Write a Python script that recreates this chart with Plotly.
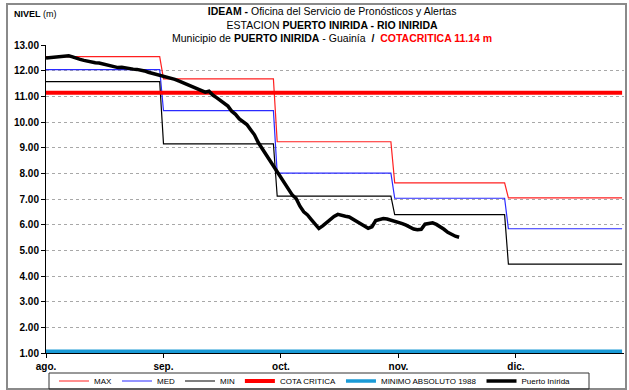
import datetime as dt
import plotly.graph_objects as go

# ---- data -------------------------------------------------------------
YEAR = 2011
month_numbers = [8, 9, 10, 11, 12]
month_lengths = [31, 30, 31, 30, 31]
tick_labels = ["ago.", "sep.", "oct.", "nov.", "dic."]

# monthly historical levels (m)
nivel_max = [12.55, 11.68, 9.23, 7.63, 7.04]
nivel_med = [12.04, 10.44, 8.01, 7.03, 5.84]
nivel_min = [11.57, 9.15, 7.11, 6.39, 4.46]

COTA_CRITICA = 11.14
MINIMO_ABSOLUTO_1988 = 1.07

# daily observed level at Puerto Inírida, starting 1 Aug
puerto_inirida = [
    12.49, 12.51, 12.53, 12.55, 12.56, 12.57, 12.58, 12.54, 12.48, 12.44,
    12.40, 12.36, 12.33, 12.31, 12.30, 12.27, 12.23, 12.19, 12.16, 12.12,
    12.13, 12.10, 12.08, 12.06, 12.05, 12.03, 11.99, 11.94, 11.90, 11.86,
    11.82,
    11.79, 11.76, 11.72, 11.66, 11.60, 11.54, 11.48, 11.41, 11.35, 11.28,
    11.22, 11.16, 11.20, 11.05, 10.95, 10.85, 10.75, 10.62, 10.42, 10.30,
    10.12, 10.00, 9.90, 9.70, 9.50, 9.20, 8.97, 8.78, 8.52, 8.30,
    8.05, 7.82, 7.60, 7.38, 7.15, 7.02, 6.72, 6.50, 6.38, 6.20,
    6.00, 5.85, 5.95, 6.08, 6.18, 6.32, 6.40, 6.38, 6.33, 6.30,
    6.22, 6.13, 6.05, 5.95, 5.86, 5.92, 6.16, 6.20, 6.24, 6.22,
    6.18,
    6.14, 6.10, 6.04, 5.98, 5.90, 5.83, 5.80, 5.82, 6.02, 6.06,
    6.07, 6.01, 5.93, 5.82, 5.70, 5.62, 5.55, 5.51,
]

# ---- derived coordinates ---------------------------------------------
start = dt.datetime(YEAR, 8, 1)
days_obs = [start + dt.timedelta(days=i) for i in range(len(puerto_inirida))]


def monthly_steps(values):
    xs, ys = [], []
    for m, n, v in zip(month_numbers, month_lengths, values):
        xs += [dt.datetime(YEAR, m, 1), dt.datetime(YEAR, m, n)]
        ys += [v, v]
    return xs, ys


x_first = dt.datetime(YEAR, month_numbers[0], 1)
x_last = dt.datetime(YEAR, month_numbers[-1], month_lengths[-1])
tick_vals = [start + dt.timedelta(days=31 * i) for i in range(len(tick_labels))]

NARROW = "Liberation Sans Narrow, Arial Narrow, Liberation Sans, Arial, sans-serif"
SANS = "Liberation Sans, Arial, sans-serif"

fig = go.Figure()

for name, vals, color in [("MAX", nivel_max, "#FF2020"),
                          ("MED", nivel_med, "#2B2BFF"),
                          ("MIN", nivel_min, "#000000")]:
    xs, ys = monthly_steps(vals)
    fig.add_trace(go.Scatter(x=xs, y=ys, mode="lines", name=name,
                             line=dict(color=color, width=1.2)))

fig.add_trace(go.Scatter(x=[x_first, x_last], y=[COTA_CRITICA] * 2, mode="lines",
                         name="COTA CRITICA", line=dict(color="#FF0000", width=4)))
fig.add_trace(go.Scatter(x=[x_first, x_last], y=[MINIMO_ABSOLUTO_1988] * 2, mode="lines",
                         name="MINIMO ABSOLUTO 1988", line=dict(color="#1A9AD6", width=3.5)))
fig.add_trace(go.Scatter(x=days_obs, y=puerto_inirida, mode="lines", name="Puerto Inírida",
                         line=dict(color="#000000", width=3.5)))

# plot area spans x 46..624 px, y 45..353 px
L, R, T, B = 46, 5, 45, 37
W, H = 629, 390
PW, PH = W - L - R, H - T - B


def px(xpix):
    return (xpix - L) / PW


def py(ypix):
    return (H - B - ypix) / PH


fig.update_layout(
    width=W, height=H,
    margin=dict(l=L, r=R, t=T, b=B, autoexpand=False),
    paper_bgcolor="white", plot_bgcolor="white",
    showlegend=True,
    legend=dict(orientation="h", x=px(315), xanchor="center", y=py(381), yanchor="middle",
                borderwidth=0, bgcolor="rgba(0,0,0,0)",
                font=dict(family=NARROW, size=8, color="black"),
                traceorder="normal"),
    xaxis=dict(type="date", range=[start, start + dt.timedelta(days=152.5)],
               tickvals=tick_vals, ticktext=tick_labels,
               ticks="outside", ticklen=4, tickcolor="black",
               showline=True, linecolor="black", linewidth=1,
               showgrid=False, zeroline=False,
               tickfont=dict(family=SANS, size=10, color="black", weight="bold")),
    yaxis=dict(range=[1, 13], dtick=1, tick0=1, tickformat=".2f",
               ticks="outside", ticklen=4, tickcolor="black",
               showline=True, linecolor="black", linewidth=1,
               showgrid=True, gridcolor="#A8A8A8", griddash="dot", gridwidth=1,
               zeroline=False,
               tickfont=dict(family=SANS, size=10, color="black", weight="bold")),
    annotations=[
        dict(xref="paper", yref="paper", x=px(332), y=py(24), xanchor="center", yanchor="middle",
             showarrow=False, align="center",
             font=dict(family=NARROW, size=10.5, color="black"),
             text=("<b>IDEAM -</b> Oficina del Servicio de Pronósticos y Alertas<br>"
                   "ESTACION <b>PUERTO INIRIDA - RIO INIRIDA</b><br>"
                   "Municipio de <b>PUERTO INIRIDA</b> - Guainía  <b>/</b>  "
                   f"<span style='color:#FF0000'><b>COTACRITICA {COTA_CRITICA:.2f} m</b></span>")),
        dict(xref="paper", yref="paper", x=px(12), y=py(14), xanchor="left", yanchor="middle",
             showarrow=False, font=dict(family=NARROW, size=9, color="black"),
             text="<b>NIVEL</b> (m)"),
    ],
    shapes=[
        # outer chart frame
        dict(type="rect", xref="paper", yref="paper", layer="below",
             x0=px(7), x1=px(626), y0=py(389), y1=py(4),
             line=dict(color="#8A8A8A", width=2)),
        # legend frame
        dict(type="rect", xref="paper", yref="paper", layer="below",
             x0=px(49), x1=px(589), y0=py(389), y1=py(373),
             line=dict(color="#333333", width=1)),
    ],
)

fig.write_html("out.html")
